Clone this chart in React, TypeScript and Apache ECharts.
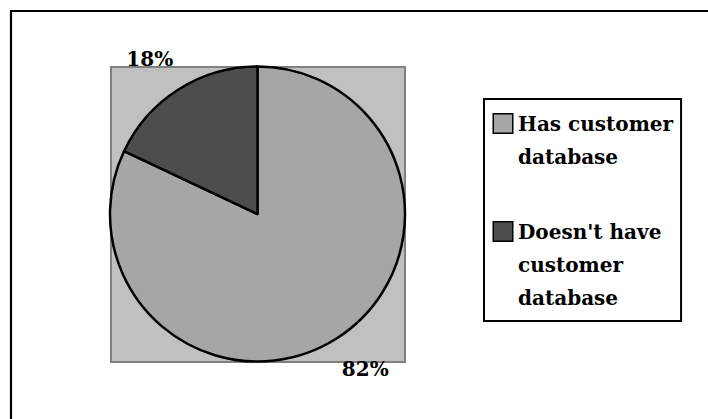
import React, { useEffect, useRef } from "react";
import * as echarts from "echarts";

const categories = ["Has customer database", "Doesn't have customer database"];
const values = [82, 18];
const legendLines = [["Has customer", "database"], ["Doesn't have", "customer", "database"]];
const sliceColors = ["#a6a6a6", "#4d4d4d"];

const FONT = "DejaVu Serif";

export default function App() {
  const ref = useRef<HTMLDivElement>(null);
  useEffect(() => {
    if (!ref.current) return;
    const chart = echarts.init(ref.current, null, { renderer: "svg" });
    const rich: any = {
      i: { width: 18, height: 18 },
      t: {
        fontFamily: FONT,
        fontSize: 20,
        fontWeight: "bold",
        color: "#000",
        padding: [0, 0, 0, 6],
        lineHeight: 33,
      },
    };
    sliceColors.forEach((c, k) => {
      rich["b" + k] = { width: 18, height: 18, backgroundColor: c, borderColor: "#000", borderWidth: 1.5 };
    });
    chart.setOption({
      animation: false,
      backgroundColor: "#ffffff",
      graphic: [
        {
          type: "rect",
          z: 0,
          shape: { x: 11, y: 11, width: 900, height: 600 },
          style: { fill: "#ffffff", stroke: "#000000", lineWidth: 2.2 },
          silent: true,
        },
        {
          type: "rect",
          z: 1,
          shape: { x: 111, y: 67, width: 294, height: 295 },
          style: { fill: "#c0c0c0", stroke: "#808080", lineWidth: 2 },
          silent: true,
        },
      ],
      legend: {
        orient: "vertical",
        left: 484,
        top: 99,
        padding: [8, 8, 7, 4],
        borderColor: "#000",
        borderWidth: 2,
        backgroundColor: "#fff",
        itemWidth: 0,
        itemHeight: 0,
        itemGap: 42,
        selectedMode: false,
        data: categories,
        formatter: (name: string) => {
          const k = categories.indexOf(name);
          return legendLines[k]
            .map((line, j) => (j === 0 ? `{b${k}|}` : `{i|}`) + `{t|${line}}`)
            .join("\n");
        },
        textStyle: { lineHeight: 33, rich },
      },
      series: [
        {
          type: "pie",
          z: 3,
          center: [257.5, 214],
          radius: 147.5,
          startAngle: 90,
          clockwise: true,
          avoidLabelOverlap: false,
          silent: true,
          emphasis: { disabled: true },
          data: categories.map((name, k) => ({
            name,
            value: values[k],
            itemStyle: { color: sliceColors[k] },
          })),
          itemStyle: { borderColor: "#000", borderWidth: 2.5 },
          label: {
            show: true,
            position: "outside",
            formatter: (p: any) => p.value + "%",
            fontFamily: FONT,
            fontSize: 20,
            fontWeight: "bold",
            color: "#000",
          },
          labelLine: { show: false, length: 36, length2: -19 },
        },
      ],
    });
    return () => chart.dispose();
  }, []);
  return (
    <div
      ref={ref}
      style={{ position: "absolute", left: 0, top: 0, width: 708, height: 419 }}
    />
  );
}
